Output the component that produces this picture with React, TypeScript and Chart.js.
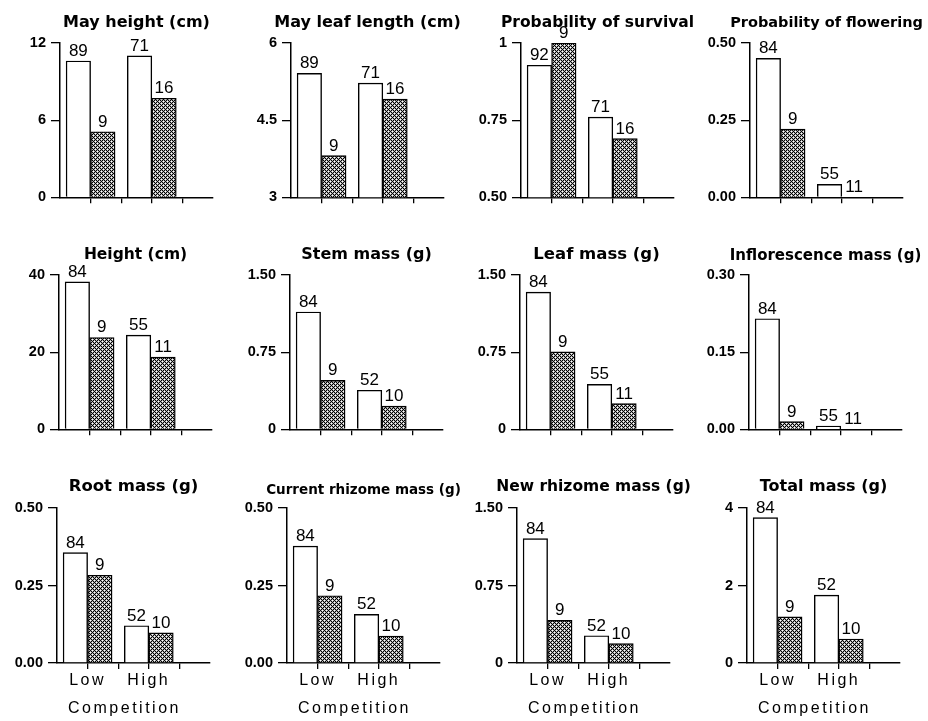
import React, { useEffect, useRef } from 'react';
import { Chart, registerables, LinearScale } from 'chart.js';

Chart.register(...registerables);

// ---------------- data ----------------
const TITLES = [
  'May height (cm)', 'May leaf length (cm)', 'Probability of survival', 'Probability of flowering',
  'Height (cm)', 'Stem mass (g)', 'Leaf mass (g)', 'Inflorescence mass (g)',
  'Root mass (g)', 'Current rhizome mass (g)', 'New rhizome mass (g)', 'Total mass (g)',
];
const GROUPS = ['Low', 'High'];
const X_TITLE = 'Competition';

// bar order in every panel: [Low open, Low hatched, High open, High hatched]
const MAY_HEIGHT = [10.6, 5.1, 11.0, 7.7];
const MAY_LEAF_LENGTH = [5.41, 3.81, 5.22, 4.91];
const SURVIVAL = [0.928, 1.0, 0.76, 0.69];
const FLOWERING = [0.45, 0.221, 0.042, 0];
const HEIGHT = [38.2, 23.8, 24.4, 18.7];
const STEM_MASS = [1.14, 0.476, 0.38, 0.225];
const LEAF_MASS = [1.333, 0.753, 0.436, 0.25];
const INFLORESCENCE_MASS = [0.215, 0.015, 0.0065, 0];
const ROOT_MASS = [0.356, 0.283, 0.12, 0.097];
const CURRENT_RHIZOME_MASS = [0.377, 0.217, 0.157, 0.087];
const NEW_RHIZOME_MASS = [1.203, 0.412, 0.264, 0.187];
const TOTAL_MASS = [3.75, 1.19, 1.75, 0.62];

// sample sizes printed above the bars
const N_MAY = [89, 9, 71, 16];
const N_SURVIVAL = [92, 9, 71, 16];
const N_FLOWER = [84, 9, 55, 11];
const N_MASS = [84, 9, 52, 10];

// y-axis ticks and their printed labels
const Y_TICKS = [
  [0, 6, 12], [3, 4.5, 6], [0.5, 0.75, 1], [0, 0.25, 0.5],
  [0, 20, 40], [0, 0.75, 1.5], [0, 0.75, 1.5], [0, 0.15, 0.3],
  [0, 0.25, 0.5], [0, 0.25, 0.5], [0, 0.75, 1.5], [0, 2, 4],
];
const Y_TICK_LABELS = [
  ['0', '6', '12'], ['3', '4.5', '6'], ['0.50', '0.75', '1'], ['0.00', '0.25', '0.50'],
  ['0', '20', '40'], ['0', '0.75', '1.50'], ['0', '0.75', '1.50'], ['0.00', '0.15', '0.30'],
  ['0.00', '0.25', '0.50'], ['0.00', '0.25', '0.50'], ['0', '0.75', '1.50'], ['0', '2', '4'],
];

const VALUES = [
  MAY_HEIGHT, MAY_LEAF_LENGTH, SURVIVAL, FLOWERING,
  HEIGHT, STEM_MASS, LEAF_MASS, INFLORESCENCE_MASS,
  ROOT_MASS, CURRENT_RHIZOME_MASS, NEW_RHIZOME_MASS, TOTAL_MASS,
];
const COUNTS = [
  N_MAY, N_MAY, N_SURVIVAL, N_FLOWER,
  N_FLOWER, N_MASS, N_FLOWER, N_FLOWER,
  N_MASS, N_MASS, N_MASS, N_MASS,
];

// x axis (data units): bar slots and tick positions
const SLOT_X = [0.6, 1.4, 2.6, 3.4];
const X_TICKS = [1, 2, 3, 4];
const GROUP_TICK = [1, 3];

// ---------------- layout / style ----------------
const PAD_TOP = 31;
const PAD_RIGHT = 35;
const Y_AXIS_W = 50;
const PLOT_W = 153;
const ROW_TOP = [43, 275, 508];
const ROW_BOTTOM = [199, 431, 663];
const ROW_XH = [12, 12, 58];
const AXIS_X = [[60, 291, 521, 750], [59, 290, 520, 749], [57, 287, 517, 747]];
const TITLE_SIZE = [16, 16, 15.5, 14.5, 15.5, 16, 16.5, 15, 16.5, 13.5, 15.5, 16];
const TITLE_GAP = [20, 20, 20, 20, 20, 20, 20, 19, 21, 18, 21, 21];

class SpacedLinearScale extends LinearScale {
  static id = 'spacedLinear';
  static defaults = LinearScale.defaults;
  drawLabels(chartArea: any) {
    const ctx: any = this.ctx;
    ctx.save();
    ctx.letterSpacing = '2.5px';
    super.drawLabels(chartArea);
    ctx.restore();
  }
  drawTitle() {
    const ctx: any = this.ctx;
    ctx.save();
    ctx.letterSpacing = '2.5px';
    ctx.translate(-9, 0);
    super.drawTitle();
    ctx.restore();
  }
}
Chart.register(SpacedLinearScale as any);

Chart.defaults.font.family = '"Liberation Sans", Arial, sans-serif';
Chart.defaults.color = '#000';

function makeHatch(): CanvasPattern | string {
  const c = document.createElement('canvas');
  c.width = 4;
  c.height = 4;
  const g = c.getContext('2d');
  if (!g) return '#555';
  g.fillStyle = '#000';
  g.fillRect(0, 0, 4, 4);
  g.fillStyle = '#b0b0b0';
  [[0, 1], [2, 1], [1, 0], [1, 2], [2, 3], [0, 3], [3, 2], [3, 0]].forEach(([x, y]) => g.fillRect(x, y, 1, 1));
  g.fillStyle = '#fff';
  g.fillRect(1, 1, 1, 1);
  g.fillRect(3, 3, 1, 1);
  const p = g.createPattern(c, 'repeat');
  return p || '#555';
}

function titlePlugin(text: string, size: number, gap: number) {
  return {
    id: 'panelTitle',
    afterDraw(chart: any) {
      const { ctx, chartArea: a } = chart;
      ctx.save();
      ctx.font = `bold ${size}px "DejaVu Sans", sans-serif`;
      ctx.fillStyle = '#000';
      ctx.textAlign = 'center';
      ctx.textBaseline = 'middle';
      ctx.fillText(text, (a.left + a.right) / 2, a.top - gap);
      ctx.restore();
    },
  };
}

function countPlugin(counts: number[]) {
  return {
    id: 'countLabels',
    afterDatasetsDraw(chart: any) {
      const { ctx } = chart;
      const meta = chart.getDatasetMeta(0);
      ctx.save();
      ctx.font = '17px "Liberation Sans", Arial, sans-serif';
      ctx.fillStyle = '#000';
      ctx.textAlign = 'center';
      ctx.textBaseline = 'alphabetic';
      meta.data.forEach((bar: any, k: number) => {
        ctx.fillText(String(counts[k]), bar.x, bar.y - 5);
      });
      ctx.restore();
    },
  };
}

export default function App() {
  const refs = useRef<(HTMLCanvasElement | null)[]>([]);

  useEffect(() => {
    const hatch = makeHatch();
    const charts: Chart[] = [];
    VALUES.forEach((vals, i) => {
      const canvas = refs.current[i];
      if (!canvas) return;
      const row = Math.floor(i / 4);
      const ticks = Y_TICKS[i];
      const tickLabels = Y_TICK_LABELS[i];
      const showX = row === 2;
      const xH = ROW_XH[row];
      const chart = new Chart(canvas, {
        type: 'bar',
        data: {
          datasets: [
            {
              data: vals.map((v, k) => ({ x: SLOT_X[k], y: v })),
              backgroundColor: ['#ffffff', hatch, '#ffffff', hatch] as any,
              borderColor: '#000',
              borderWidth: 1.4,
              borderSkipped: 'start',
              barPercentage: 1,
              categoryPercentage: 1,
            } as any,
          ],
        },
        options: {
          responsive: false,
          animation: false,
          devicePixelRatio: 1,
          layout: { padding: { top: PAD_TOP, right: PAD_RIGHT, left: 0, bottom: 0 } },
          plugins: {
            legend: { display: false },
            tooltip: { enabled: false },
            title: { display: false },
          },
          scales: {
            x: {
              type: 'spacedLinear' as any,
              min: 0,
              max: 5,
              offset: false,
              afterBuildTicks: (s: any) => {
                s.ticks = X_TICKS.map((v) => ({ value: v }));
              },
              afterFit: (s: any) => {
                s.height = xH;
              },
              grid: {
                display: true,
                offset: false,
                drawOnChartArea: false,
                drawTicks: true,
                tickLength: 6,
                color: '#000',
                lineWidth: 1.3,
              },
              border: { display: true, color: '#000', width: 1.5 },
              ticks: {
                display: showX,
                autoSkip: false,
                maxRotation: 0,
                padding: 2,
                color: '#000',
                font: { size: 16 },
                callback: (v: any) => {
                  const g = GROUP_TICK.indexOf(Number(v));
                  return g >= 0 ? GROUPS[g] : '';
                },
              },
              title: {
                display: showX,
                text: X_TITLE,
                color: '#000',
                font: { size: 16 },
                padding: { top: 0, bottom: 3 },
              },
            } as any,
            y: {
              type: 'linear',
              min: ticks[0],
              max: ticks[ticks.length - 1],
              afterBuildTicks: (s: any) => {
                s.ticks = ticks.map((v) => ({ value: v }));
              },
              afterFit: (s: any) => {
                s.width = Y_AXIS_W;
              },
              grid: {
                display: true,
                drawOnChartArea: false,
                drawTicks: true,
                tickLength: 9,
                color: '#000',
                lineWidth: 1.3,
              },
              border: { display: true, color: '#000', width: 1.5 },
              ticks: {
                autoSkip: false,
                padding: 5,
                color: '#000',
                font: { size: 14.5, weight: 'bold' },
                callback: (_v: any, idx: number) => tickLabels[idx],
              },
            } as any,
          },
        },
        plugins: [titlePlugin(TITLES[i], TITLE_SIZE[i], TITLE_GAP[i]), countPlugin(COUNTS[i])],
      });
      charts.push(chart);
    });
    return () => charts.forEach((c) => c.destroy());
  }, []);

  return (
    <div
      style={{
        position: 'absolute',
        left: 0,
        top: 0,
        width: 928,
        height: 721,
        background: '#fff',
        overflow: 'hidden',
      }}
    >
      {VALUES.map((_, i) => {
        const row = Math.floor(i / 4);
        const col = i % 4;
        const w = Y_AXIS_W + PLOT_W + PAD_RIGHT;
        const h = PAD_TOP + (ROW_BOTTOM[row] - ROW_TOP[row]) + ROW_XH[row];
        return (
          <canvas
            key={i}
            ref={(el) => {
              refs.current[i] = el;
            }}
            width={w}
            height={h}
            style={{
              position: 'absolute',
              left: AXIS_X[row][col] - Y_AXIS_W,
              top: ROW_TOP[row] - PAD_TOP,
              width: w,
              height: h,
            }}
          />
        );
      })}
    </div>
  );
}
